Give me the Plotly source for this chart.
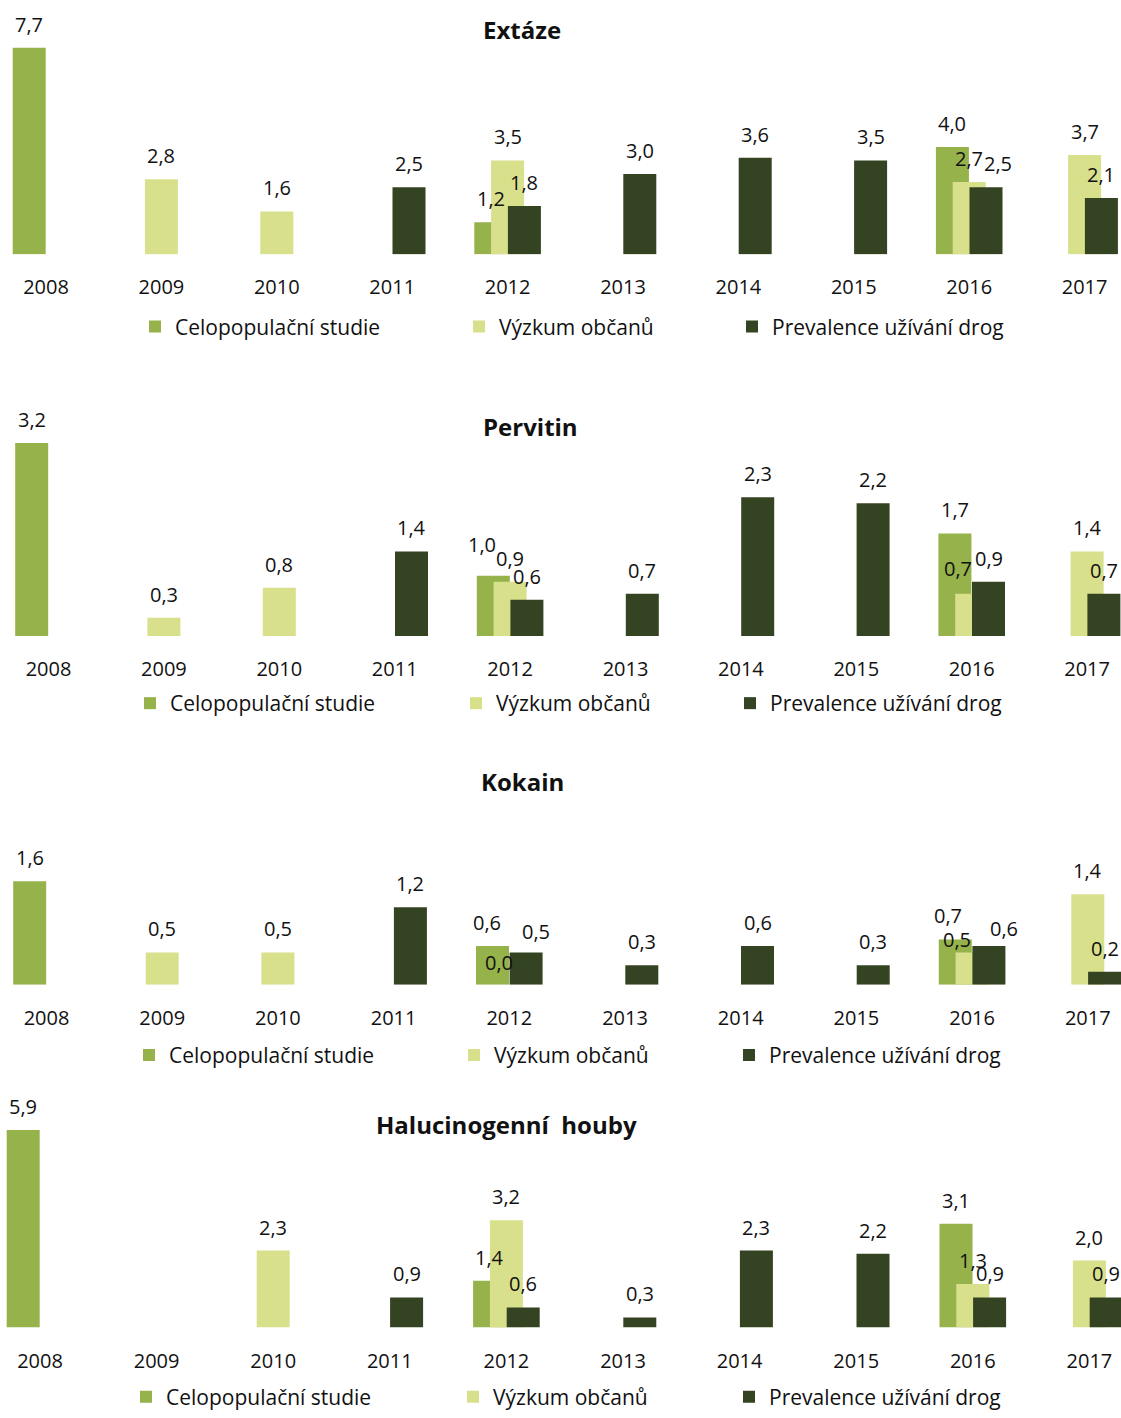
import plotly.graph_objects as go

# ---- data -------------------------------------------------------------
years = [2008, 2009, 2010, 2011, 2012, 2013, 2014, 2015, 2016, 2017]
series_names = ["Celopopulační studie", "Výzkum občanů", "Prevalence užívání drog"]

extaze_celo = [7.7, None, None, None, 1.2, None, None, None, 4.0, None]
extaze_vyzkum = [None, 2.8, 1.6, None, 3.5, None, None, None, 2.7, 3.7]
extaze_prev = [None, None, None, 2.5, 1.8, 3.0, 3.6, 3.5, 2.5, 2.1]

pervitin_celo = [3.2, None, None, None, 1.0, None, None, None, 1.7, None]
pervitin_vyzkum = [None, 0.3, 0.8, None, 0.9, None, None, None, 0.7, 1.4]
pervitin_prev = [None, None, None, 1.4, 0.6, 0.7, 2.3, 2.2, 0.9, 0.7]

kokain_celo = [1.6, None, None, None, 0.6, None, None, None, 0.7, None]
kokain_vyzkum = [None, 0.5, 0.5, None, 0.0, None, None, None, 0.5, 1.4]
kokain_prev = [None, None, None, 1.2, 0.5, 0.3, 0.6, 0.3, 0.6, 0.2]

houby_celo = [5.9, None, None, None, 1.4, None, None, None, 3.1, None]
houby_vyzkum = [None, None, 2.3, None, 3.2, None, None, None, 1.3, 2.0]
houby_prev = [None, None, None, 0.9, 0.6, 0.3, 2.3, 2.2, 0.9, 0.9]

panel_titles = ["Extáze", "Pervitin", "Kokain", "Halucinogenní  houby"]
panel_series = [
    [extaze_celo, extaze_vyzkum, extaze_prev],
    [pervitin_celo, pervitin_vyzkum, pervitin_prev],
    [kokain_celo, kokain_vyzkum, kokain_prev],
    [houby_celo, houby_vyzkum, houby_prev],
]

# ---- styling / geometry (pixels) ---------------------------------------
W, H = 1121, 1418
colors = ["#95B24B", "#D8E08B", "#344321"]
FONT = "Open Sans"
TXT = "#111111"

# per panel: baseline y, first category x, category spacing, px per unit,
# y-axis max, title centre, legend centre y, legend marker left edges
geom = [
    dict(base=256, x0=46.0, step=115.4, scale=27.0, ymax=8.5,
         title=(522, 30), leg_y=329, leg_x=[152, 476, 749]),
    dict(base=640, x0=48.5, step=115.4, scale=60.7, ymax=3.5,
         title=(530, 429), leg_y=708, leg_x=[147, 473, 747]),
    dict(base=991, x0=46.5, step=115.7, scale=65.0, ymax=2.0,
         title=(522, 786), leg_y=1062, leg_x=[146, 471, 746]),
    dict(base=1336, x0=40.0, step=116.6, scale=33.7, ymax=6.0,
         title=(506, 1132), leg_y=1406, leg_x=[143, 470, 746]),
]
BAR_PX = 33.0      # bar width
STEP_PX = 16.8     # horizontal shift between overlapping series
LABEL_GAP = 8      # value label lift above the bar top

# hand-placed value labels where neighbours would collide: (dx, dy) px
label_nudge = {
    (0, 2, 2016): (12, 0),
    (1, 0, 2012): (-11, 8),
    (1, 1, 2016): (-14, 2),
    (2, 0, 2012): (-6, 0),
    (2, 1, 2012): (-10, -1),
    (2, 2, 2012): (10, -3),
    (2, 0, 2016): (-7, 0),
    (2, 1, 2016): (-15, -11),
    (2, 2, 2016): (15, -6),
}


def py(px):
    """pixel row -> paper y"""
    return 1 - px / H


def pxx(px):
    """pixel column -> paper x"""
    return px / W


fig = go.Figure()
layout = dict(
    width=W, height=H,
    margin=dict(l=0, r=0, t=0, b=0),
    paper_bgcolor="white", plot_bgcolor="white",
    barmode="overlay",
    separators=", ",
    font=dict(family=FONT, size=20, color=TXT),
    annotations=[],
)

leg_idx = 0
for p, (g, data) in enumerate(zip(geom, panel_series)):
    n = "" if p == 0 else str(p + 1)
    xa, ya = "x" + n, "y" + n
    width = BAR_PX / g["step"]
    x_lo = years[0] - g["x0"] / g["step"]
    x_hi = x_lo + W / g["step"]
    top_px = g["base"] - g["ymax"] * g["scale"]

    layout["xaxis" + n] = dict(
        domain=[0, 1], range=[x_lo, x_hi], anchor=ya,
        tickmode="array", tickvals=years, ticktext=[str(y) for y in years],
        showgrid=False, zeroline=False, showline=False,
        ticks="outside", ticklen=15, tickcolor="rgba(0,0,0,0)",
        tickfont=dict(family=FONT, size=20, color=TXT),
        fixedrange=True,
    )
    layout["yaxis" + n] = dict(
        domain=[py(g["base"]), py(top_px)], range=[0, g["ymax"]],
        anchor=xa, visible=False, fixedrange=True,
    )

    for k, (name, vals) in enumerate(zip(series_names, data)):
        leg_idx += 1
        lname = "legend" if leg_idx == 1 else "legend" + str(leg_idx)
        shift = (k - 1) * STEP_PX / g["step"]
        fig.add_trace(go.Bar(
            x=years, y=vals, name=name,
            width=width, offset=shift - width / 2,
            marker=dict(color=colors[k], line=dict(width=0)),
            xaxis=xa, yaxis=ya, legend=lname, showlegend=True,
            hoverinfo="skip",
        ))
        layout[lname] = dict(
            x=pxx(g["leg_x"][k] - 17), y=py(g["leg_y"]),
            xanchor="left", yanchor="middle",
            bgcolor="rgba(0,0,0,0)", borderwidth=0,
            font=dict(family=FONT, size=21, color=TXT),
            itemclick=False, itemdoubleclick=False,
        )
        # value labels above each bar
        for yr, v in zip(years, vals):
            if v is None:
                continue
            dx, dy = label_nudge.get((p, k, yr), (0, 0))
            layout["annotations"].append(dict(
                x=yr + shift, y=v, xref=xa, yref=ya,
                text=f"{v:.1f}".replace(".", ","),
                showarrow=False, yanchor="bottom", xanchor="center",
                xshift=dx, yshift=LABEL_GAP + dy,
                font=dict(family=FONT, size=20, color=TXT),
            ))

    tx, ty = g["title"]
    layout["annotations"].append(dict(
        x=pxx(tx), y=py(ty), xref="paper", yref="paper",
        text="<b>" + panel_titles[p] + "</b>", showarrow=False,
        xanchor="center", yanchor="middle",
        font=dict(family=FONT, size=24, color=TXT),
    ))

fig.update_layout(**layout)
fig.write_html("out.html")
